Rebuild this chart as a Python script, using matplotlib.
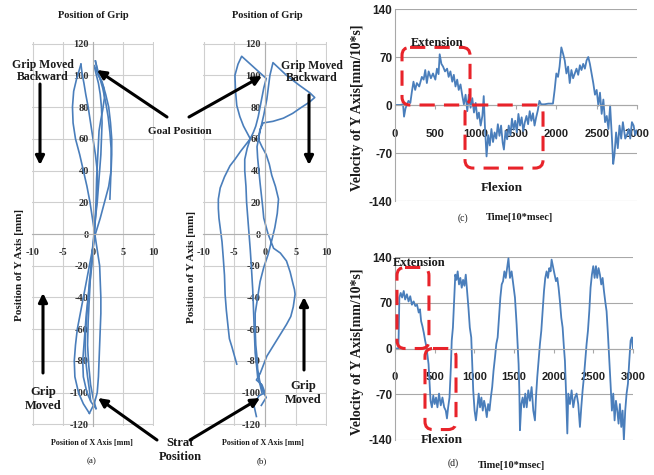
import matplotlib.pyplot as plt
from matplotlib.patches import FancyBboxPatch

W, H = 654, 475

# (a) grip trajectories, x in mm / y in mm
a1_x = [-0.4, -0.6, -0.9, -1.2, -1.3, -1.2, -1.0, -0.8, -0.5, -0.2, 0.0, 0.2,
        0.4, 0.7, 0.9, 1.1, 1.3, 1.4, 1.5, 1.4, 1.2, 0.9, 0.5, 0.2]
a1_y = [-105, -98, -90, -80, -70, -60, -50, -40, -30, -20, -10, 0,
        10, 20, 30, 40, 50, 60, 70, 80, 88, 95, 101, 106]
a2_x = [0.2, 0.8, 1.5, 2.1, 2.6, 2.9, 3.1, 3.1, 3.0, 2.6, 1.9, 1.2, 0.4,
        -0.1, -0.6, -1.1, -1.6, -2.1, -2.6, -2.9, -3.1, -3.0, -2.4, -1.6, -0.6]
a2_y = [106, 101, 96, 88, 80, 70, 60, 50, 40, 30, 20, 10, 0,
        -10, -20, -30, -40, -50, -60, -70, -80, -90, -100, -107, -113]
a3_x = [-0.6, 0.2, 0.7, 0.9, 1.0, 1.1, 1.2, 1.3, 1.3, 1.2, 1.1, 0.7, 0.3,
        -0.1, -0.5, -1.0, -1.6, -2.2, -2.9, -3.3, -3.4, -3.2, -2.7, -2.3, -2.0]
a3_y = [-113, -107, -100, -90, -80, -70, -60, -50, -40, -30, -20, -10, 0,
        10, 20, 30, 40, 50, 60, 70, 80, 90, 98, 103, 107]
a4_x = [-2.0, -1.8, -1.5, -1.2, -0.8, -0.4, 0.0, 0.4, 0.7, 0.7, 0.6, 0.4, 0.2,
        0.0, -0.3, -0.6, -0.8, -1.1, -1.3, -1.5, -1.7, -1.6, -1.0, -0.3, 0.5]
a4_y = [107, 101, 95, 88, 80, 70, 60, 50, 40, 30, 20, 10, 0,
        -10, -20, -30, -40, -50, -60, -70, -80, -90, -100, -106, -110]
a5_x = [0.5, 0.0, -0.4, -0.7, -0.9, -0.8, -0.6, -0.4, -0.1, 0.3, 0.5,
        0.6, 0.8, 1.0, 1.3, 1.6, 1.9, 1.8, 1.4, 0.9, 0.4]
a5_y = [-110, -103, -95, -83, -70, -55, -40, -25, -10, 5, 20,
        35, 50, 65, 72, 78, 86, 92, 96, 100, 109]
a6_x = [0.4, 1.0, 1.6, 2.1, 2.5, 2.8, 3.0, 3.0, 2.9, 2.8]
a6_y = [109, 100, 92, 83, 74, 64, 54, 42, 32, 22]

# (b) grip trajectories
b1_x = [-0.5, -0.8, -1.2, -1.4, -1.6, -1.7, -1.8, -1.9, -2.0, -2.2,
        -2.4, -2.6, -2.8, -3.0, -3.1, -3.3, -3.3, -2.9, -2.4, -1.9,
        -1.5, -1.1, -0.8, -0.5, -0.2, 0.2, -3.8, -4.4, -4.9, -4.8,
        -4.6, -4.1, -3.5, -2.4, -3.2, -4.0, -4.9, -5.7, -6.6, -7.3,
        -7.6, -7.6, -7.5, -7.3, -7.0, -6.8, -6.6, -6.5, -6.3, -6.0,
        -5.8, -5.4, -4.6]
b1_y = [-100, -95, -90, -82, -75, -65, -55, -45, -35, -22,
        -10, 0, 10, 20, 30, 40, 47, 54, 60, 64,
        68, 74, 80, 86, 92, 98, 112, 107, 100, 90,
        81, 74, 68, 60, 56, 52, 47, 43, 36, 29,
        22, 16, 10, 4, -5, -15, -26, -38, -48, -59,
        -66, -71, -82]
b2_x = [-1.4, -1.8, -1.0, 0.0, -0.5, -1.4, -0.8, 0.3, 1.1, 1.9,
        2.7, 3.5, 4.2, 4.6, 4.9, 4.8, 4.6, 4.1, 3.5, 2.5,
        1.4, 0.5, -0.2, -0.4, -0.6, -0.8, -1.0, -1.2, -1.3, -0.8,
        -0.2, 0.3, 0.8, 1.3, 2.4, 3.5, 5.5, 7.3, 8.1, 7.2,
        6.0, 4.5, 3.0, 1.3, -0.3, -0.8, -1.1, -0.5, 0.2, 0.7,
        1.1, 1.7, 2.2, 2.0, 1.6, 1.1, 0.5, -0.2, -0.8, -1.2,
        -1.6, -1.6, -1.5, -1.3, -1.2, -0.9, -0.5, 0.2, -0.6]
b2_y = [-115, -108, -102, -100, -95, -92, -88, -77, -72, -67,
        -62, -57, -52, -46, -38, -35, -32, -24, -17, -12,
        -9, 0, 10, 18, 25, 32, 40, 48, 55, 65,
        75, 85, 100, 108, 104, 100, 94, 89, 86, 83,
        80, 76, 73, 71, 70, 66, 60, 55, 50, 44,
        37, 30, 22, 13, 4, -4, -13, -21, -30, -40,
        -50, -60, -70, -78, -85, -92, -98, -103, -108]

# (c) velocity, time [10*msec]
c_t = [0, 60, 100, 112, 130, 146, 167, 190, 210, 229,
       250, 271, 300, 333, 355, 375, 395, 417, 445, 471,
       500, 520, 540, 554, 575, 596, 620, 646, 665, 687,
       710, 729, 750, 771, 790, 812, 835, 854, 875, 896,
       915, 937, 958, 979, 1000, 1021, 1040, 1062, 1083, 1100,
       1115, 1135, 1155, 1175, 1195, 1215, 1235, 1255, 1275, 1295,
       1315, 1335, 1350, 1370, 1390, 1410, 1430, 1450, 1470, 1490,
       1510, 1530, 1550, 1570, 1590, 1610, 1630, 1650, 1670, 1690,
       1710, 1730, 1750, 1770, 1790, 1812, 1850, 1900, 1958, 1979,
       2000, 2021, 2040, 2062, 2083, 2104, 2125, 2146, 2166, 2187,
       2208, 2229, 2250, 2271, 2292, 2312, 2333, 2354, 2375, 2396,
       2416, 2437, 2458, 2479, 2500, 2521, 2541, 2562, 2583, 2604,
       2625, 2646, 2667, 2690, 2705, 2720, 2741, 2762, 2783, 2804,
       2825, 2854, 2875, 2896, 2916, 2937, 2958, 2979, 3000]
c_v = [0, 0, 1, -17, -5, 0, 6, 3, 20, 34,
       22, 32, 27, 41, 37, 51, 32, 49, 39, 46,
       37, 53, 45, 74, 60, 56, 49, 53, 41, 49,
       34, 44, 27, 37, 22, 30, 13, 1, 15, -9,
       15, -4, 10, -11, 3, -20, -11, -30, -16, 13,
       -32, -75, -44, -59, -35, -54, -40, -49, -28, -45,
       -30, -55, -65, -38, -50, -30, -44, -20, -36, -23,
       -40, -13, -30, -18, -38, -25, -16, -28, -9, -23,
       -12, -30, -18, -8, 6, 1, 1, 2, 2, 22,
       46, 41, 56, 84, 75, 65, 46, 56, 32, 51,
       39, 46, 53, 44, 58, 51, 60, 53, 65, 70,
       60, 46, 32, 15, 22, -1, 18, -13, 8, -25,
       -16, -35, -1, -50, -86, -73, -40, -63, -30, -49,
       -25, -49, -44, -35, -49, -25, -30, -44, -37]

# (d) velocity, time [10*msec]
d_t = [0, 43, 55, 72, 90, 110, 128, 150, 171, 192,
       213, 235, 256, 278, 299, 315, 329, 346, 363, 380,
       397, 410, 423, 436, 448, 465, 482, 500, 517, 535,
       555, 577, 598, 620, 640, 655, 670, 687, 704, 715,
       730, 747, 760, 775, 790, 807, 824, 841, 858, 875,
       892, 909, 926, 943, 961, 973, 986, 1003, 1020, 1038,
       1055, 1072, 1089, 1106, 1123, 1140, 1157, 1174, 1191, 1208,
       1225, 1242, 1260, 1277, 1294, 1311, 1328, 1345, 1362, 1379,
       1396, 1413, 1430, 1449, 1470, 1491, 1512, 1533, 1545, 1558,
       1567, 1575, 1592, 1609, 1626, 1642, 1660, 1680, 1701, 1722,
       1743, 1764, 1777, 1793, 1810, 1827, 1844, 1861, 1878, 1894,
       1911, 1928, 1945, 1961, 1974, 1995, 2012, 2029, 2046, 2062,
       2079, 2096, 2113, 2129, 2142, 2155, 2172, 2184, 2205, 2226,
       2247, 2268, 2289, 2310, 2331, 2348, 2365, 2381, 2398, 2415,
       2432, 2449, 2465, 2482, 2499, 2516, 2533, 2549, 2566, 2583,
       2600, 2617, 2634, 2650, 2667, 2684, 2700, 2717, 2734, 2751,
       2768, 2785, 2802, 2818, 2835, 2852, 2869, 2885, 2902, 2919,
       2936, 2953, 2970, 2986, 3000]
d_v = [0, 0, 78, 85, 78, 88, 75, 83, 72, 80,
       67, 72, 65, 67, 55, 60, 42, 34, 24, 12,
       2, -11, -24, -54, -80, -90, -72, -85, -75, -90,
       -69, -87, -75, -90, -95, -107, -90, -75, -29, 12,
       32, 78, 113, 105, 118, 98, 108, 93, 105, 96,
       113, 88, 62, 32, 17, -24, -64, -95, -110, -90,
       -69, -90, -75, -95, -80, -90, -105, -85, -95, -75,
       -59, -34, -14, 7, 17, 47, 78, 98, 103, 118,
       108, 123, 138, 108, 118, 98, 78, 37, 7, -24,
       -64, -125, -85, -75, -90, -69, -90, -64, -80, -59,
       -95, -110, -75, -44, -19, 7, 27, 57, 88, 108,
       118, 108, 123, 118, 136, 123, 113, 103, 108, 93,
       72, 47, 32, 2, -19, -64, -130, -69, -85, -64,
       -90, -75, -69, -85, -120, -90, -64, -44, -19, 7,
       27, 57, 93, 113, 126, 108, 126, 108, 123, 113,
       98, 108, 88, 72, 57, 22, -14, -54, -95, -69,
       -110, -80, -95, -115, -85, -120, -95, -140, -95, -69,
       -54, -19, 12, 17, 0]

grip_xticks = [-10, -5, 0, 5, 10]
grip_yticks = list(range(-120, 121, 20))
vel_xticks = [0, 500, 1000, 1500, 2000, 2500, 3000]
vel_yticks = [-140, -70, 0, 70, 140]

blue = '#4a7ebb'
red = '#e8232a'
serif = 'Liberation Serif'
sans = 'Liberation Sans'

plt.rcParams['axes.unicode_minus'] = False
fig = plt.figure(figsize=(W / 100, H / 100), dpi=100)


def px_axes(l, t, r, b):
    return fig.add_axes([l / W, 1 - b / H, (r - l) / W, (b - t) / H])


def grip_panel(ax, paths):
    for x, y in paths:
        ax.plot(x, y, color=blue, lw=1.2, solid_joinstyle='round')
    ax.set_xlim(-10.1, 10.1)
    ax.set_ylim(-121, 121)
    ax.set_xticks(grip_xticks)
    ax.set_yticks(grip_yticks)
    ax.grid(color='#cfcfcf', lw=0.8)
    ax.set_axisbelow(True)
    for s in ['top', 'right']:
        ax.spines[s].set_visible(False)
    for s in ['left', 'bottom']:
        ax.spines[s].set_position(('data', 0))
        ax.spines[s].set_color('#b0b0b0')
    ax.tick_params(axis='x', length=0, pad=10, labelsize=7.5)
    ax.tick_params(axis='y', length=0, pad=3, labelsize=7.5)
    for lab in ax.get_xticklabels() + ax.get_yticklabels():
        lab.set_fontfamily(serif)
        lab.set_fontweight('bold')
        lab.set_color('#303030')


def vel_panel(ax, t, v):
    ax.plot(t, v, color=blue, lw=1.3)
    ax.set_xlim(0, 3000)
    ax.set_ylim(-140, 140)
    ax.set_xticks(vel_xticks)
    ax.set_yticks(vel_yticks)
    ax.yaxis.grid(True, color='#a8a8a8', lw=0.8)
    ax.set_axisbelow(True)
    for s in ['top', 'right']:
        ax.spines[s].set_visible(False)
    ax.spines['bottom'].set_position(('data', 0))
    ax.spines['bottom'].set_color('#a8a8a8')
    ax.spines['left'].set_color('#a8a8a8')
    ax.tick_params(axis='x', length=3, color='#a8a8a8', pad=14, labelsize=8)
    ax.tick_params(axis='y', length=0, pad=2, labelsize=8.5)
    for lab in ax.get_xticklabels() + ax.get_yticklabels():
        lab.set_fontfamily(sans)
        lab.set_fontweight('bold')
        lab.set_color('#202020')


ax_a = px_axes(32, 42, 154, 426)
grip_panel(ax_a, [(a1_x, a1_y), (a2_x, a2_y), (a3_x, a3_y),
                  (a4_x, a4_y), (a5_x, a5_y), (a6_x, a6_y)])
ax_b = px_axes(203, 42, 327, 426)
grip_panel(ax_b, [(b1_x, b1_y), (b2_x, b2_y)])

ax_c = px_axes(395, 9, 637, 201)
vel_panel(ax_c, c_t, c_v)
ax_d = px_axes(395, 257, 633, 440)
vel_panel(ax_d, d_t, d_v)

# overlay in pixel coordinates for annotations
ov = fig.add_axes([0, 0, 1, 1])
ov.set_xlim(0, W)
ov.set_ylim(H, 0)
ov.axis('off')
ov.patch.set_alpha(0)


def to_px(ax, x, y):
    dx, dy = ax.transData.transform((x, y))
    return dx, H - dy


def red_box(ax, t0, t1, v0, v1):
    x0, y0 = to_px(ax, t0, v1)
    x1, y1 = to_px(ax, t1, v0)
    ov.add_patch(FancyBboxPatch((x0, y0), x1 - x0, y1 - y0,
                                boxstyle='round,pad=0,rounding_size=8',
                                fill=False, ec=red, lw=2.2,
                                ls=(0, (5, 3))))


def txt(x, y, s, size, **kw):
    kw.setdefault('family', serif)
    kw.setdefault('weight', 'bold')
    ov.text(x, y, s, fontsize=size, ha=kw.pop('ha', 'center'),
            va=kw.pop('va', 'center'), color=kw.pop('color', '#1a1a1a'), **kw)


def arrow(x0, y0, x1, y1):
    ov.annotate('', xy=(x1, y1), xytext=(x0, y0),
                arrowprops=dict(arrowstyle='-|>', color='black', lw=2.2,
                                mutation_scale=13, shrinkA=0, shrinkB=0))


red_box(ax_c, 87, 930, 0, 84)
red_box(ax_c, 868, 1835, -92, 0)
red_box(ax_d, 25, 428, 0, 124)
red_box(ax_d, 378, 769, -124, 0)

# panel (a) / (b) texts
txt(93, 16, 'Position of Grip', 7.5)
txt(267, 16, 'Position of Grip', 7.5)
txt(92, 443, 'Position of X Axis [mm]', 5.8)
txt(263, 443, 'Position of X Axis [mm]', 5.8)
txt(92, 461, '(a)', 6.5, weight='normal')
txt(262, 461, '(b)', 6.5, weight='normal')
txt(20, 265, 'Position of Y Axis [mm]', 8, rotation=90)
txt(191, 267, 'Position of Y Axis [mm]', 8, rotation=90)

txt(43, 71, 'Grip Moved\nBackward', 8.5, linespacing=1.05)
txt(312, 72, 'Grip Moved\nBackward', 8.5, linespacing=1.05)
txt(43, 399, 'Grip\nMoved', 9, linespacing=1.2)
txt(303, 393, 'Grip\nMoved', 9, linespacing=1.2)
txt(180, 131, 'Goal Position', 8)
txt(180, 450, 'Strat\nPosition', 9, linespacing=1.25)

arrow(40, 84, 40, 165)
arrow(309, 95, 309, 165)
arrow(43, 373, 43, 293)
arrow(304, 370, 304, 297)
arrow(167, 117, 97, 70)
arrow(189, 117, 262, 76)
arrow(157, 440, 98, 398)
arrow(190, 440, 260, 398)

# panel (c) / (d) texts
txt(358, 108, 'Velocity of Y Axis[mm/10*s]', 10, rotation=90)
txt(358, 352, 'Velocity of Y Axis[mm/10*s]', 10, rotation=90)
txt(437, 43, 'Extension', 9)
txt(502, 188, 'Flexion', 9.5)
txt(419, 263, 'Extension', 9)
txt(442, 440, 'Flexion', 9.5)
txt(463, 218, '(c)', 7, weight='normal')
txt(519, 218, 'Time[10*msec]', 7.5)
txt(453, 463, '(d)', 7, weight='normal')
txt(511, 465, 'Time[10*msec]', 7.5)

fig.savefig('out.png', dpi=100)
